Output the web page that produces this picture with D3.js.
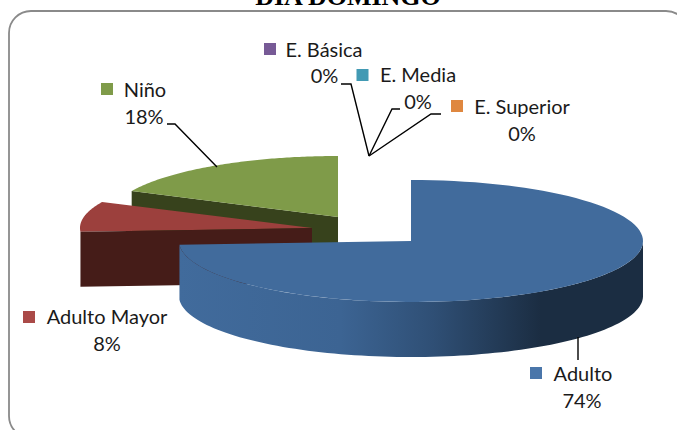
<!DOCTYPE html>
<html><head><meta charset="utf-8">
<script src="https://cdn.jsdelivr.net/npm/d3@7/dist/d3.min.js"></script>
<style>html,body{margin:0;padding:0;background:#fff;overflow:hidden}svg{display:block}</style>
</head><body><script>
const categories = ["Adulto", "Adulto Mayor", "Niño", "E. Básica", "E. Media", "E. Superior"];
const values = [74, 8, 18, 0, 0, 0];
const labels = ["74%", "8%", "18%", "0%", "0%", "0%"];
const topColors = ["#416b9c", "#9c403d", "#7f9b49"];
const wallColors = ["#1b2d42", "#451c18", "#37421c"];
const legendColors = ["#4a76aa", "#aa4a48", "#7f9b49", "#775a96", "#429ab4", "#df873f"];
const title = "DIA DOMINGO";

const W = 677, H = 430, RY = 61, DEPTH = 55;
const radii = [232, 232, 228];
const centers = [[411, 241], [312, 228], [338, 217]];
const legendPos = [[530, 367], [23, 311], [101, 83], [264, 43], [356.5, 69], [451, 100]];
const namePos = [[583, 381], [107, 324], [145, 97], [324, 57], [418, 82], [522, 114]];
const pctPos = [[582, 408], [107, 351], [144, 124], [324.5, 83], [418, 109], [522, 141]];
const leaders = [
  [[578, 337], [578, 360]],
  null,
  [[217, 167], [175, 124], [167, 124]],
  [[369, 156], [351, 84], [341, 84]],
  [[369, 156], [392, 109], [400, 109]],
  [[369, 156], [431, 114], [441, 114]]
];

const svg = d3.select("body").append("svg").attr("width", W).attr("height", H);
const grad = svg.append("defs").append("linearGradient").attr("id", "wallGrad").attr("gradientUnits", "userSpaceOnUse")
  .attr("x1", 178).attr("x2", 643).attr("y1", 0).attr("y2", 0);
[[0, "#416b9c"], [0.35, "#3c6493"], [0.55, "#2f4f75"], [0.78, "#1b2d42"], [1, "#1b2d42"]]
  .forEach(([o, c]) => grad.append("stop").attr("offset", o).attr("stop-color", c));

// Title and frame
svg.append("text").attr("x", 348).attr("y", 5).attr("text-anchor", "middle")
  .attr("font-family", "Liberation Serif").attr("font-weight", "bold").attr("font-size", 26).attr("fill", "#000").text(title);
svg.append("rect").attr("x", 9).attr("y", 11).attr("width", 679).attr("height", 427).attr("rx", 22)
  .attr("fill", "#fff").attr("stroke", "#8a8a8a").attr("stroke-width", 1.8);

const pie = d3.pie().sort(null).value(d => d)(values);
const ell = (i, a) => [centers[i][0] + radii[i] * Math.sin(a), centers[i][1] - RY * Math.cos(a)];
const sector = i => {
  const s = pie[i], p = d3.path();
  p.moveTo(centers[i][0], centers[i][1]);
  d3.range(0, 101).forEach(k => { const q = ell(i, s.startAngle + (s.endAngle - s.startAngle) * k / 100); p.lineTo(q[0], q[1]); });
  p.closePath();
  return p.toString();
};
const poly = pts => d3.line()(pts) + "Z";
const down = p => [p[0], p[1] + DEPTH];
const cutFace = i => { const e = ell(i, pie[i].startAngle); return poly([e, centers[i], down(centers[i]), down(e)]); };

const layer = svg.append("g");
// Niño (back)
layer.append("path").attr("d", cutFace(2)).attr("fill", wallColors[2]);
layer.append("path").attr("d", sector(2)).attr("fill", topColors[2]);
// Adulto Mayor
layer.append("path").attr("d", sector(1)).attr("fill", topColors[1]);
layer.append("path").attr("d", cutFace(1)).attr("fill", wallColors[1]);
// Adulto (front): outer wall then top
const a0 = Math.PI / 2, a1 = pie[0].endAngle;
const edge = d3.range(0, 101).map(k => ell(0, a0 + (a1 - a0) * k / 100));
layer.append("path").attr("d", poly(edge.concat(edge.slice().reverse().map(down)))).attr("fill", "url(#wallGrad)");
layer.append("path").attr("d", sector(0)).attr("fill", topColors[0]);

// Leader lines
leaders.forEach(pts => { if (pts) svg.append("path").attr("d", d3.line()(pts)).attr("fill", "none").attr("stroke", "#000").attr("stroke-width", 1.4); });

// Legend keys and labels
const txt = (p, s) => svg.append("text").attr("x", p[0]).attr("y", p[1]).attr("text-anchor", "middle")
  .attr("font-family", "Lato").attr("font-size", 20).attr("fill", "#1a1a1a").text(s);
categories.forEach((c, i) => {
  svg.append("rect").attr("x", legendPos[i][0]).attr("y", legendPos[i][1]).attr("width", 12).attr("height", 12).attr("fill", legendColors[i]);
  txt(namePos[i], c);
  txt(pctPos[i], labels[i]);
});
</script></body></html>
